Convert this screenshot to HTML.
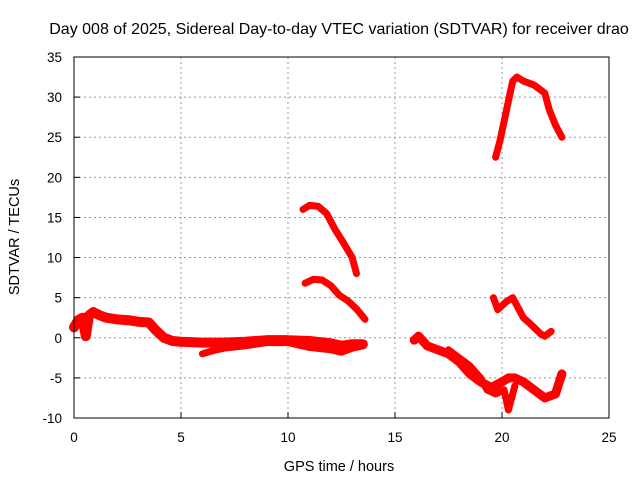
<!DOCTYPE html>
<html><head><meta charset="utf-8"><style>
body{margin:0;background:#fff}
svg{display:block;font-family:"Liberation Sans",sans-serif}
</style></head><body>
<svg id="chart" width="640" height="480">
<text x="339" y="34" font-size="16" text-anchor="middle">Day 008 of 2025, Sidereal Day-to-day VTEC variation (SDTVAR) for receiver drao</text>
<text x="339" y="471" font-size="14.5" text-anchor="middle">GPS time / hours</text>
<text transform="translate(19,237) rotate(-90)" font-size="14.5" text-anchor="middle">SDTVAR / TECUs</text>
<g id="grid"></g>
<g id="marks"></g>
<rect x="74" y="57" width="535" height="361" fill="none" stroke="#000"/>
<g id="ticks"></g>
</svg>
<script>
const xTicks=[0,5,10,15,20,25];
const yTicks=[-10,-5,0,5,10,15,20,25,30,35];
const seriesMainH=[0,0.2,0.4,0.55,0.7,0.9,1.2,1.5,2,2.5,3,3.5,3.8,4.2,4.6,5,6,7,8,9,10,11,12,12.5,13,13.5];
const seriesMainV=[1.3,2.2,2.5,0.2,2.8,3.2,2.8,2.5,2.3,2.2,2,1.9,1,0,-0.4,-0.5,-0.6,-0.6,-0.5,-0.3,-0.3,-0.4,-0.7,-1,-0.8,-0.8];
const seriesLowH=[6,6.5,7,8,9,10,11,12,12.5,13,13.5];
const seriesLowV=[-2,-1.6,-1.3,-1,-0.6,-0.6,-1.2,-1.5,-1.8,-1.3,-1];
const seriesHighH=[10.7,11,11.4,11.8,12.2,12.6,13,13.2];
const seriesHighV=[16,16.5,16.4,15.5,13.5,11.8,10,8];
const seriesMidH=[10.8,11.2,11.6,12,12.4,12.8,13.2,13.6];
const seriesMidV=[6.8,7.3,7.2,6.5,5.3,4.6,3.6,2.3];
const seriesEveH=[15.9,16.1,16.5,17,17.5,18,18.5,19,19.5,20,20.3,20.6,21,21.5,22,22.5,22.8];
const seriesEveV=[-0.3,0.2,-1,-1.5,-2,-3,-4.5,-5.5,-6.2,-5.5,-5,-5,-5.5,-6.5,-7.5,-7,-4.5];
const seriesEve2H=[17.5,18,18.5,19,19.3,19.7,20.1,20.3,20.6];
const seriesEve2V=[-1.5,-2.5,-3.5,-5,-6.5,-7,-6.5,-9,-6];
const seriesUpH=[19.6,19.8,20.2,20.5,20.8,21,21.3,21.8,22,22.3];
const seriesUpV=[5,3.5,4.5,5,3.5,2.5,1.8,0.5,0.2,0.8];
const seriesTopH=[19.7,19.9,20.1,20.3,20.5,20.7,21,21.5,22,22.2,22.5,22.8];
const seriesTopV=[22.5,24.5,27,29.5,32,32.5,32,31.5,30.5,28.5,26.5,25];
const NS='http://www.w3.org/2000/svg';
const X=h=>74+h*21.4, Y=v=>57+(35-v)*361/45;
const grid=document.getElementById('grid'),ticks=document.getElementById('ticks'),marks=document.getElementById('marks');
function mk(t,a,p){const e=document.createElementNS(NS,t);for(const k in a)e.setAttribute(k,a[k]);p.appendChild(e);return e;}
xTicks.forEach(t=>{
 if(t>0&&t<25){const g=mk('line',{x1:X(t),x2:X(t),y1:57,y2:418,stroke:'#999','stroke-dasharray':'2,3'},grid);
 
 }
 const l=mk('line',{x1:X(t),x2:X(t),y1:418,y2:412,stroke:'#000'},ticks);
 
 
 const tx=mk('text',{x:X(t),y:442,'font-size':13.5,'text-anchor':'middle'},ticks);tx.textContent=t;
 
 
});
yTicks.forEach(t=>{
 if(t>-10&&t<35){const g=mk('line',{x1:74,x2:609,y1:Y(t),y2:Y(t),stroke:'#999','stroke-dasharray':'2,3'},grid);
 
 }
 const l=mk('line',{x1:74,x2:80,y1:Y(t),y2:Y(t),stroke:'#000'},ticks);
 
 
 const tx=mk('text',{x:62,y:Y(t)+5,'font-size':13.5,'text-anchor':'end'},ticks);tx.textContent=t;
 
 
});
[[seriesMainH,seriesMainV,10],[seriesLowH,seriesLowV,7],[seriesHighH,seriesHighV,7],[seriesMidH,seriesMidV,7],[seriesEveH,seriesEveV,9],[seriesEve2H,seriesEve2V,7],[seriesUpH,seriesUpV,7],[seriesTopH,seriesTopV,7]].forEach(([hs,vs,w])=>{
 const p=mk('polyline',{points:hs.map((h,i)=>X(h)+','+Y(vs[i])).join(' '),fill:'none',stroke:'#f00','stroke-width':w,'stroke-linejoin':'round','stroke-linecap':'round'},marks);
 
 
});
</script>
</body></html>
